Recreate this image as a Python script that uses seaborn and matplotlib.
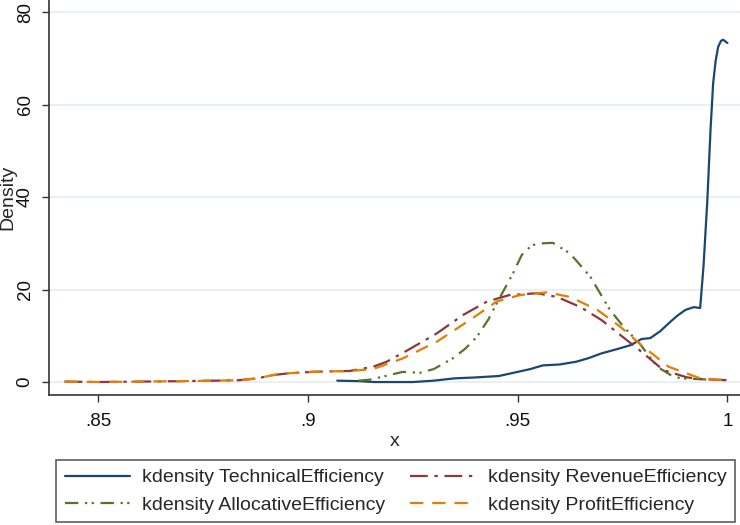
import numpy as np
import pandas as pd
import matplotlib
matplotlib.use("Agg")
import matplotlib.pyplot as plt
import seaborn as sns

# ─────────────────────────────────────────────
# Data
# ─────────────────────────────────────────────

tech_x = [0.907, 0.912, 0.916, 0.92, 0.925, 0.93, 0.935, 0.94, 0.9455, 0.95, 0.953,
          0.956, 0.96, 0.964, 0.967, 0.970, 0.974, 0.977, 0.9795, 0.9816, 0.984,
          0.986, 0.988, 0.990, 0.992, 0.9935, 0.9943, 0.9952, 0.996, 0.9966,
          0.9972, 0.9978, 0.9985, 0.999, 1.0]
tech_y = [0.3, 0.2, 0.0, 0.0, 0.0, 0.3, 0.8, 1.0, 1.3, 2.2, 2.8,
          3.6, 3.8, 4.4, 5.2, 6.2, 7.2, 8.0, 9.3, 9.5, 11.0,
          12.7, 14.3, 15.6, 16.2, 16.0, 25.0, 39.0, 55.0, 64.6,
          69.5, 72.5, 73.8, 74.0, 73.3]

alloc_x = [0.912, 0.9147, 0.918, 0.9226, 0.9267, 0.930, 0.9345, 0.9375, 0.9403,
           0.943, 0.945, 0.9489, 0.951, 0.9534, 0.956, 0.9584, 0.9625, 0.9673,
           0.972, 0.9752, 0.979, 0.9833, 0.9865, 0.9888, 0.994, 0.996]
alloc_y = [0.3, 0.5, 1.2, 2.2, 2.0, 2.8, 5.1, 7.2, 9.8,
           13.5, 17.0, 23.5, 27.5, 29.6, 30.0, 30.1, 27.8, 22.8,
           15.6, 12.0, 8.4, 3.3, 1.5, 0.8, 0.6, 0.5]

rev_x = [0.842, 0.85, 0.86, 0.87, 0.878, 0.8837, 0.888, 0.8916, 0.8955, 0.9011,
         0.905, 0.910, 0.9155, 0.9188, 0.924, 0.9307, 0.937, 0.9427, 0.948,
         0.9546, 0.9594, 0.965, 0.970, 0.975, 0.980, 0.9847, 0.9904, 0.9943, 1.0]
rev_y = [0.1, 0.0, 0.1, 0.2, 0.3, 0.4, 0.8, 1.5, 1.9, 2.2,
         2.3, 2.4, 3.3, 4.4, 7.0, 10.5, 14.5, 17.4, 18.8,
         19.2, 18.4, 16.2, 13.4, 9.8, 6.2, 2.6, 1.0, 0.6, 0.4]

prof_x = [0.842, 0.85, 0.86, 0.87, 0.878, 0.8837, 0.888, 0.8916, 0.8955, 0.9011,
          0.905, 0.910, 0.9155, 0.9226, 0.9307, 0.9386, 0.945, 0.9505, 0.957,
          0.9625, 0.969, 0.9744, 0.980, 0.986, 0.9935, 1.0]
prof_y = [0.1, 0.0, 0.1, 0.2, 0.3, 0.4, 0.8, 1.5, 1.9, 2.2,
          2.3, 2.4, 2.8, 5.1, 8.7, 13.4, 17.4, 18.8, 19.4,
          18.4, 15.6, 12.0, 7.6, 3.3, 0.8, 0.4]

x_ticks  = [0.85, 0.9, 0.95, 1.0]
x_labels = [".85", ".9", ".95", "1"]
y_ticks  = [0, 20, 40, 60, 80]

# label, x, y, colour, dash pattern (legend order: column-wise)
SERIES = [
    ("kdensity TechnicalEfficiency",  tech_x,  tech_y,  "#1a476f", None),
    ("kdensity AllocativeEfficiency", alloc_x, alloc_y, "#55752f", (6, 3, 1, 2, 1, 3)),
    ("kdensity RevenueEfficiency",    rev_x,   rev_y,   "#90353b", (8, 3, 1.5, 3)),
    ("kdensity ProfitEfficiency",     prof_x,  prof_y,  "#e37e00", (6, 4)),
]

# ─────────────────────────────────────────────
# Plot
# ─────────────────────────────────────────────

sns.set_style("white")
plt.rcParams["font.family"] = ["Liberation Sans", "DejaVu Sans"]

fig = plt.figure(figsize=(7.4, 5.25), dpi=100)
ax = fig.add_axes([49 / 740, 1 - 395 / 525, 1 - 49 / 740, 395 / 525])

for label, xs, ys, color, dash in SERIES:
    df = pd.DataFrame({"x": xs, "y": ys})
    sns.lineplot(data=df, x="x", y="y", ax=ax, color=color, lw=1.6,
                 sort=False, estimator=None, label=label)
    if dash is not None:
        ax.lines[-1].set_dashes(dash)

ax.set_xlim(0.8383, 1.003)
ax.set_ylim(-2.8, 82.6)
ax.set_xticks(x_ticks, x_labels)
ax.set_yticks(y_ticks, [str(v) for v in y_ticks])
ax.tick_params(axis="both", labelsize=13.5, length=5, width=1, color="#333333",
               direction="out", bottom=True, left=True, labelcolor="#111111")
ax.tick_params(axis="x", pad=8)
ax.tick_params(axis="y", pad=6)
for lbl in ax.get_yticklabels():
    lbl.set_rotation(90)
    lbl.set_va("center")
ax.grid(axis="y", color="#e6eef0", lw=1.2)
ax.set_axisbelow(True)

for side in ("top", "right"):
    ax.spines[side].set_visible(False)
for side in ("left", "bottom"):
    ax.spines[side].set_color("#333333")
    ax.spines[side].set_linewidth(1.2)

ax.set_xlabel("x", fontsize=14, labelpad=2)
ax.set_ylabel("Density", fontsize=14, labelpad=0)

ax.legend(loc="upper left", bbox_to_anchor=(56 / 740, 1 - 460 / 525),
          bbox_transform=fig.transFigure, ncol=2, fontsize=14,
          frameon=True, fancybox=False, edgecolor="#333333", handlelength=3.35,
          handletextpad=0.62, borderaxespad=0, borderpad=0.45, labelspacing=0.5,
          columnspacing=1.3)
leg = ax.get_legend()
leg.get_frame().set_linewidth(1.2)

plt.savefig("out.png", dpi=100)
plt.close()
